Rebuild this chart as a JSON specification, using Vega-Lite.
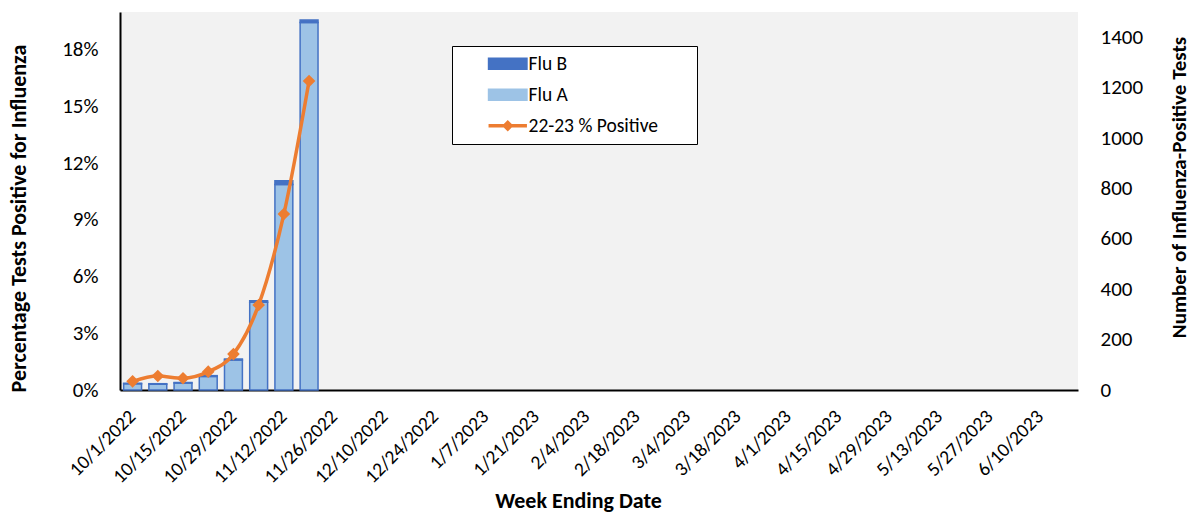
{
  "$schema": "https://vega.github.io/schema/vega-lite/v6.json",
  "width": 958,
  "height": 378,
  "autosize": {"type": "none"},
  "padding": {"left": 120, "top": 12, "right": 115, "bottom": 124},
  "background": "white",
  "config": {
    "font": "Carlito, Lato, sans-serif",
    "view": {"fill": "#F2F2F2", "stroke": null},
    "axis": {"grid": false, "ticks": false, "labelColor": "#000", "titleColor": "#000", "labelFontSize": 21, "titleFontSize": 22, "titleFontWeight": "bold"}
  },
  "datasets": {
    "counts": [
      {"week": "10/1/2022", "type": "Flu A", "count": 25},
      {"week": "10/1/2022", "type": "Flu B", "count": 2},
      {"week": "10/8/2022", "type": "Flu A", "count": 23},
      {"week": "10/8/2022", "type": "Flu B", "count": 2},
      {"week": "10/15/2022", "type": "Flu A", "count": 28},
      {"week": "10/15/2022", "type": "Flu B", "count": 2},
      {"week": "10/22/2022", "type": "Flu A", "count": 54},
      {"week": "10/22/2022", "type": "Flu B", "count": 3},
      {"week": "10/29/2022", "type": "Flu A", "count": 119},
      {"week": "10/29/2022", "type": "Flu B", "count": 4},
      {"week": "11/5/2022", "type": "Flu A", "count": 348},
      {"week": "11/5/2022", "type": "Flu B", "count": 6},
      {"week": "11/12/2022", "type": "Flu A", "count": 815},
      {"week": "11/12/2022", "type": "Flu B", "count": 15},
      {"week": "11/19/2022", "type": "Flu A", "count": 1458},
      {"week": "11/19/2022", "type": "Flu B", "count": 10}
    ],
    "pct": [
      {"week": "10/1/2022", "pct": 0.0046},
      {"week": "10/8/2022", "pct": 0.0074},
      {"week": "10/15/2022", "pct": 0.0062},
      {"week": "10/22/2022", "pct": 0.0097},
      {"week": "10/29/2022", "pct": 0.019},
      {"week": "11/5/2022", "pct": 0.045},
      {"week": "11/12/2022", "pct": 0.0931},
      {"week": "11/19/2022", "pct": 0.1635}
    ]
  },
  "layer": [
    {
      "data": {"name": "counts"},
      "mark": {"type": "bar", "stroke": "#4472C4", "strokeWidth": 1.5},
      "encoding": {
        "x": {
          "field": "week", "type": "ordinal", "sort": null,
          "scale": {
            "type": "band", "paddingInner": 0.29, "paddingOuter": 0.145,
            "domain": ["10/1/2022","10/8/2022","10/15/2022","10/22/2022","10/29/2022","11/5/2022","11/12/2022","11/19/2022","11/26/2022","12/3/2022","12/10/2022","12/17/2022","12/24/2022","12/31/2022","1/7/2023","1/14/2023","1/21/2023","1/28/2023","2/4/2023","2/11/2023","2/18/2023","2/25/2023","3/4/2023","3/11/2023","3/18/2023","3/25/2023","4/1/2023","4/8/2023","4/15/2023","4/22/2023","4/29/2023","5/6/2023","5/13/2023","5/20/2023","5/27/2023","6/3/2023","6/10/2023","6/17/2023"]
          },
          "axis": {
            "title": "Week Ending Date",
            "values": ["10/1/2022","10/15/2022","10/29/2022","11/12/2022","11/26/2022","12/10/2022","12/24/2022","1/7/2023","1/21/2023","2/4/2023","2/18/2023","3/4/2023","3/18/2023","4/1/2023","4/15/2023","4/29/2023","5/13/2023","5/27/2023","6/10/2023"],
            "labelAngle": -45, "labelAlign": "right", "labelBaseline": "middle", "labelPadding": 23, "labelFontSize": 19.5,
            "domainColor": "#000", "domainWidth": 2,
            "titleX": 458, "titleY": 117, "titleBaseline": "alphabetic", "titleAlign": "center"
          }
        },
        "y": {
          "field": "count", "type": "quantitative", "stack": "zero",
          "scale": {"domain": [0, 1500], "nice": false},
          "axis": {
            "orient": "right", "title": "Number of Influenza-Positive Tests",
            "values": [0, 200, 400, 600, 800, 1000, 1200, 1400],
            "domain": false, "labelPadding": 22, "format": "d", "titleFontSize": 21,
            "titleAngle": 270, "titleX": 101, "titleY": 175, "titleBaseline": "middle", "titleAlign": "center"
          }
        },
        "color": {
          "field": "type", "type": "nominal",
          "scale": {"domain": ["Flu B", "Flu A", "22-23 % Positive"], "range": ["#4472C4", "#9DC3E6", "#ED7D31"]},
          "legend": {
            "title": null, "orient": "none", "direction": "vertical",
            "legendX": 332, "legendY": 34, "padding": 8,
            "fillColor": "white", "strokeColor": "black",
            "rowPadding": 10, "symbolOffset": 38, "labelOffset": 11,
            "labelFontSize": 19.5, "labelColor": "#000", "labelLimit": 400,
            "symbolSize": 576,
            "symbolOpacity": 1,
            "symbolType": {"expr": "datum.value === '22-23 % Positive' ? 'M-1.6,0H1.6M-0.27,0L0,-0.27L0.27,0L0,0.27Z' : 'M-1.6,-0.45H1.6V0.45H-1.6Z'"},
            "symbolFillColor": {"expr": "datum.value === '22-23 % Positive' ? '#ED7D31' : (datum.value === 'Flu B' ? '#4472C4' : '#9DC3E6')"},
            "symbolStrokeColor": {"expr": "datum.value === '22-23 % Positive' ? '#ED7D31' : '#4472C4'"},
            "symbolStrokeWidth": {"expr": "datum.value === '22-23 % Positive' ? 3.5 : 1.5"},
            "labelExpr": "datum.label === '22-23 % Positive' ? datum.label + '\u00a0\u00a0\u00a0\u00a0\u00a0\u00a0\u00a0\u200b' : datum.label"
          }
        },
        "order": {"field": "type", "sort": "ascending"}
      }
    },
    {
      "data": {"name": "pct"},
      "mark": {"type": "line", "strokeWidth": 3.5, "interpolate": "monotone", "point": {"shape": "diamond", "size": 160, "filled": true}},
      "encoding": {
        "x": {"field": "week", "type": "ordinal", "sort": null},
        "y": {
          "field": "pct", "type": "quantitative",
          "scale": {"domain": [0, 0.2], "nice": false},
          "axis": {
            "orient": "left", "title": "Percentage Tests Positive for Influenza",
            "values": [0, 0.03, 0.06, 0.09, 0.12, 0.15, 0.18], "format": ".0%",
            "domainColor": "#000", "domainWidth": 2, "labelPadding": 22,
            "titleAngle": 270, "titleX": -102, "titleY": 206, "titleBaseline": "middle", "titleAlign": "center"
          }
        },
        "color": {"datum": "22-23 % Positive"}
      }
    }
  ],
  "resolve": {"scale": {"y": "independent"}, "axis": {"y": "independent"}}
}
